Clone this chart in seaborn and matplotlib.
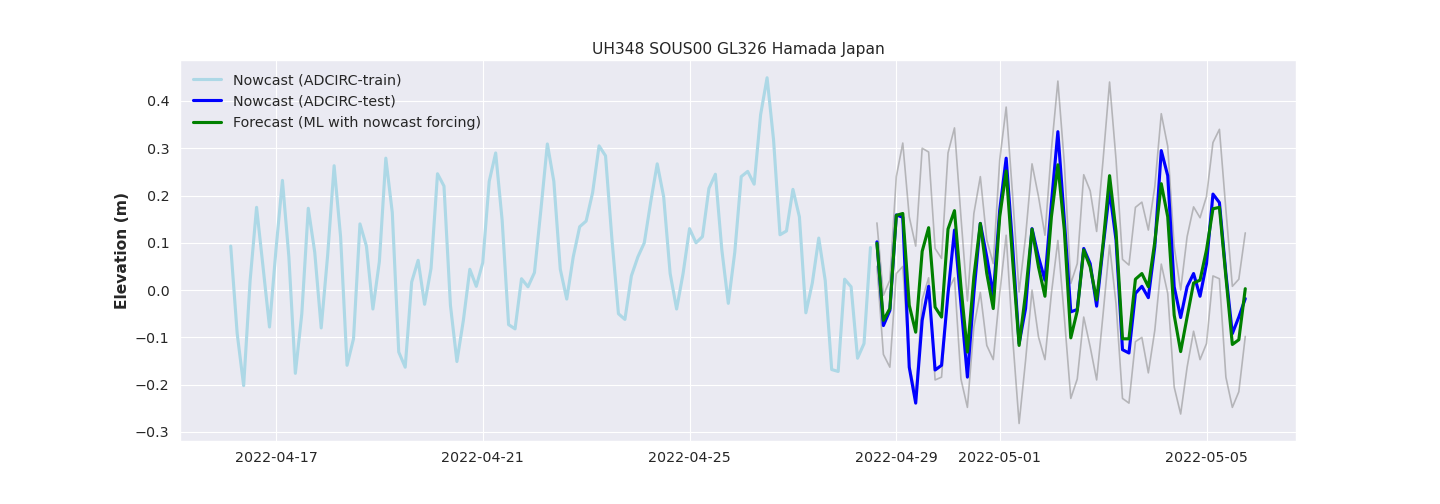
import numpy as np
import pandas as pd
import matplotlib
matplotlib.use("Agg")
import matplotlib.pyplot as plt
import matplotlib.dates as mdates
import seaborn as sns

title = "UH348 SOUS00 GL326 Hamada Japan"
ylabel = "Elevation (m)"
legend_labels = ["Nowcast (ADCIRC-train)", "Nowcast (ADCIRC-test)", "Forecast (ML with nowcast forcing)"]
tick_dates = ["2022-04-17", "2022-04-21", "2022-04-25", "2022-04-29", "2022-05-01", "2022-05-05"]

train = [0.093,-0.092,-0.202,0.02,0.175,0.049,-0.078,0.085,0.232,0.07,
         -0.176,-0.05,0.173,0.08,-0.08,0.074,0.263,0.113,-0.159,-0.103,
         0.14,0.093,-0.04,0.06,0.279,0.164,-0.131,-0.163,0.017,0.063,
         -0.03,0.046,0.246,0.22,-0.032,-0.151,-0.064,0.044,0.008,0.058,
         0.23,0.29,0.148,-0.073,-0.082,0.024,0.007,0.037,0.17,0.309,
         0.23,0.044,-0.019,0.07,0.134,0.146,0.206,0.305,0.284,0.106,
         -0.05,-0.062,0.03,0.07,0.1,0.187,0.267,0.197,0.035,-0.04,
         0.035,0.13,0.1,0.113,0.215,0.245,0.085,-0.028,0.08,0.24,
         0.251,0.224,0.371,0.449,0.318,0.117,0.125,0.213,0.155,-0.048,
         0.015,0.11,0.02,-0.168,-0.172,0.023,0.007,-0.144,-0.113,0.09]

test = [0.102,-0.075,-0.043,0.159,0.154,-0.163,-0.239,-0.064,0.008,-0.169,
        -0.159,-0.007,0.127,-0.029,-0.184,-0.007,0.141,0.07,-0.011,0.169,
        0.279,0.092,-0.113,-0.039,0.13,0.07,0.021,0.184,0.335,0.148,
        -0.046,-0.041,0.088,0.056,-0.034,0.092,0.21,0.106,-0.126,-0.133,
        -0.007,0.008,-0.016,0.092,0.295,0.242,0.007,-0.058,0.007,0.035,
        -0.013,0.056,0.203,0.185,0.035,-0.092,-0.057,-0.018]

forecast = [0.099,-0.064,-0.039,0.158,0.162,-0.032,-0.089,0.082,0.132,-0.036,
            -0.057,0.129,0.168,0.007,-0.131,0.028,0.141,0.035,-0.039,0.155,
            0.252,0.063,-0.117,-0.007,0.129,0.049,-0.013,0.155,0.265,0.127,
            -0.101,-0.044,0.085,0.049,-0.021,0.099,0.242,0.124,-0.103,-0.103,
            0.023,0.035,0.007,0.102,0.225,0.155,-0.053,-0.13,-0.057,0.015,
            0.021,0.085,0.172,0.175,0.028,-0.115,-0.105,0.003]

upper = [0.142,-0.011,0.021,0.24,0.311,0.155,0.093,0.3,0.292,0.088,
         0.067,0.29,0.343,0.155,-0.023,0.162,0.24,0.106,0.056,0.275,
         0.387,0.2,-0.004,0.113,0.267,0.198,0.116,0.297,0.442,0.268,
         0.014,0.056,0.244,0.21,0.124,0.276,0.44,0.276,0.065,0.053,
         0.175,0.186,0.127,0.219,0.373,0.304,0.092,0.0,0.113,0.176,
         0.153,0.198,0.312,0.34,0.17,0.008,0.023,0.121]

lower = [0.05,-0.136,-0.163,0.035,0.05,-0.159,-0.22,-0.02,0.026,-0.19,
         -0.184,0.0,0.026,-0.188,-0.248,-0.078,-0.005,-0.117,-0.147,-0.007,
         0.116,-0.1,-0.282,-0.149,0.0,-0.099,-0.147,-0.007,0.105,-0.057,
         -0.229,-0.188,-0.057,-0.12,-0.19,-0.05,0.095,-0.029,-0.229,-0.239,
         -0.109,-0.1,-0.175,-0.085,0.055,-0.007,-0.205,-0.262,-0.163,-0.087,
         -0.147,-0.113,0.03,0.024,-0.184,-0.248,-0.215,-0.098]

t_train = pd.date_range("2022-04-16 03:00", periods=len(train), freq="3h")
t_test = pd.date_range(t_train[-1] + pd.Timedelta(hours=3), periods=len(test), freq="3h")

sns.set_theme(style="darkgrid")
fig, ax = plt.subplots(figsize=(18, 6.3), dpi=80)
fig.subplots_adjust(left=0.125, right=0.9, top=0.88, bottom=0.1255)

sns.lineplot(x=t_test, y=upper, ax=ax, color="gray", alpha=0.5, lw=1.5, errorbar=None, label="_u")
sns.lineplot(x=t_test, y=lower, ax=ax, color="gray", alpha=0.5, lw=1.5, errorbar=None, label="_l")
sns.lineplot(x=t_train, y=train, ax=ax, color="lightblue", lw=2.8, errorbar=None, label=legend_labels[0])
sns.lineplot(x=t_test, y=test, ax=ax, color="blue", lw=2.8, errorbar=None, label=legend_labels[1])
sns.lineplot(x=t_test, y=forecast, ax=ax, color="green", lw=2.8, errorbar=None, label=legend_labels[2])

ax.set_xticks(pd.to_datetime(tick_dates))
ax.xaxis.set_major_formatter(mdates.DateFormatter("%Y-%m-%d"))
ax.tick_params(labelsize=12.8)
ax.set_title(title, fontsize=14)
ax.set_xlabel("")
ax.set_ylabel(ylabel, fontweight="bold", fontsize=14)
ax.legend(loc="upper left", frameon=False, fontsize=12.8)

fig.savefig("out.png", dpi=80)
